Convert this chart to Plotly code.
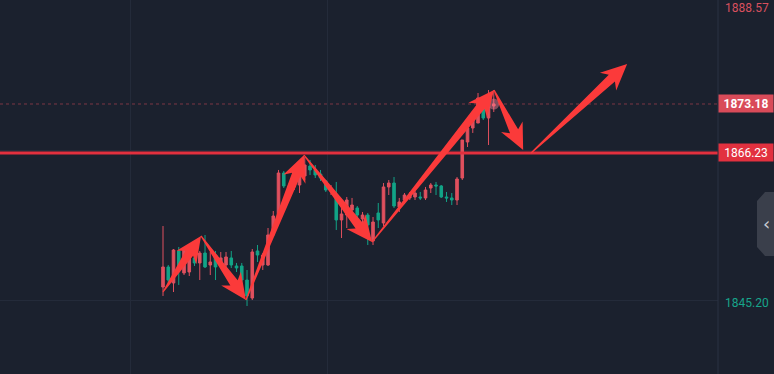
import math
import plotly.graph_objects as go

# ---------------- data ----------------
open_ = [1847.22, 1850.06, 1847.79, 1852.33, 1849.21, 1849.35, 1851.34, 1850.63, 1852.04, 1850.34,
         1851.76, 1850.34, 1850.34, 1851.34, 1850.20, 1850.20, 1848.21, 1845.66, 1852.33, 1850.34,
         1850.34, 1854.60, 1857.29, 1863.39, 1861.55, 1861.41, 1861.69, 1862.97, 1864.38, 1863.82,
         1863.25, 1862.26, 1860.98, 1860.27, 1856.73, 1857.43, 1858.14, 1858.43, 1856.87, 1857.43,
         1853.75, 1857.72, 1856.30, 1861.41, 1861.97, 1858.57, 1859.56, 1859.85, 1859.99, 1859.99,
         1859.85, 1861.26, 1861.69, 1861.55, 1859.99, 1859.85, 1859.56, 1862.68, 1867.79, 1869.77,
         1870.48, 1872.75, 1871.19, 1872.89]
high = [1855.87, 1850.34, 1852.61, 1852.90, 1852.61, 1851.76, 1851.62, 1852.33, 1854.60, 1852.19,
        1852.33, 1852.19, 1852.19, 1852.33, 1850.63, 1850.63, 1849.63, 1852.61, 1853.18, 1852.04,
        1855.59, 1858.00, 1863.82, 1863.68, 1861.97, 1863.82, 1864.81, 1865.66, 1865.24, 1864.53,
        1863.82, 1862.40, 1861.69, 1862.12, 1858.57, 1859.99, 1859.85, 1858.71, 1857.86, 1857.72,
        1857.15, 1859.14, 1861.97, 1862.40, 1862.82, 1859.85, 1860.55, 1860.70, 1861.26, 1860.70,
        1861.41, 1861.97, 1862.12, 1861.69, 1860.70, 1860.55, 1862.82, 1868.07, 1870.48, 1871.62,
        1874.74, 1873.46, 1875.16, 1875.16]
low = [1845.95, 1847.79, 1846.51, 1847.51, 1848.92, 1848.78, 1850.20, 1848.21, 1849.92, 1848.92,
       1848.21, 1849.92, 1849.63, 1849.92, 1849.35, 1846.37, 1844.53, 1845.38, 1850.77, 1849.63,
       1850.20, 1854.31, 1857.01, 1861.26, 1860.98, 1860.98, 1860.55, 1862.40, 1863.11, 1862.68,
       1862.26, 1860.70, 1860.27, 1855.31, 1854.17, 1855.59, 1857.43, 1856.44, 1854.60, 1853.18,
       1853.18, 1855.59, 1855.87, 1860.27, 1858.43, 1857.86, 1858.99, 1859.56, 1859.56, 1859.56,
       1859.56, 1860.55, 1860.27, 1859.85, 1859.28, 1858.85, 1858.85, 1862.40, 1867.08, 1869.07,
       1870.48, 1870.91, 1867.36, 1872.04]
close = [1850.06, 1848.21, 1852.47, 1850.06, 1852.47, 1851.48, 1850.63, 1852.04, 1850.06, 1850.77,
         1850.06, 1851.34, 1851.48, 1850.34, 1849.92, 1848.21, 1845.95, 1852.19, 1851.76, 1851.76,
         1854.60, 1857.29, 1863.39, 1861.55, 1861.41, 1863.11, 1864.24, 1864.53, 1863.82, 1863.11,
         1862.68, 1860.98, 1861.26, 1856.73, 1857.58, 1859.56, 1858.85, 1857.43, 1857.43, 1856.02,
         1856.44, 1856.73, 1861.41, 1861.97, 1858.71, 1859.28, 1860.27, 1860.27, 1860.55, 1859.85,
         1860.98, 1861.69, 1861.55, 1859.99, 1859.85, 1859.56, 1862.54, 1868.07, 1869.77, 1870.91,
         1874.03, 1871.19, 1874.46, 1873.18]
bars = list(range(len(close)))

top_price_label = 1888.57
last_price = 1873.18
level_price = 1866.23
low_price_label = 1845.20

# drawn arrow path (bar index, price)
zigzag = [(0, 1846.51), (7.24, 1854.46), (15.8, 1845.38), (26.86, 1865.94),
          (39.8, 1853.60), (63.05, 1875.16), (68.6, 1866.65)]
projection = [(70.1, 1866.23), (88.4, 1878.85)]

# ---------------- layout constants ----------------
W, H = 774, 374
PW, PH = 718, 374           # plot area in px
X0, X1 = -31.05, 105.71
Y0, Y1 = 1834.88, 1887.93
BG = "#1b212e"
GRID = "#242b3a"
UP = "#e0505e"
DOWN = "#12a387"
ARROW = "#fb3a3a"


def to_px(i, p):
    return ((i - X0) / (X1 - X0) * PW, (Y1 - p) / (Y1 - Y0) * PH)


def to_data(x, y):
    return (X0 + x / PW * (X1 - X0), Y1 - y / PH * (Y1 - Y0))


def arrow_path(a, b, w0=1.2, w1=9.0, hw=24.0, hl=26.0):
    ax, ay = to_px(*a)
    bx, by = to_px(*b)
    dx, dy = bx - ax, by - ay
    L = math.hypot(dx, dy)
    ux, uy = dx / L, dy / L
    nx, ny = -uy, ux
    hx, hy = bx - ux * hl, by - uy * hl
    sx, sy = bx - ux * hl * 0.8, by - uy * hl * 0.8
    pts = [
        (ax + nx * w0 / 2, ay + ny * w0 / 2),
        (sx + nx * w1 / 2, sy + ny * w1 / 2),
        (hx + nx * hw / 2, hy + ny * hw / 2),
        (bx, by),
        (hx - nx * hw / 2, hy - ny * hw / 2),
        (sx - nx * w1 / 2, sy - ny * w1 / 2),
        (ax - nx * w0 / 2, ay - ny * w0 / 2),
    ]
    d = [to_data(x, y) for x, y in pts]
    return "M " + " L ".join(f"{x:.4f},{y:.4f}" for x, y in d) + " Z"


fig = go.Figure()
fig.add_trace(go.Candlestick(
    x=bars, open=open_, high=high, low=low, close=close,
    increasing=dict(line=dict(color=UP, width=1), fillcolor=UP),
    decreasing=dict(line=dict(color=DOWN, width=1), fillcolor=DOWN),
    whiskerwidth=0, hoverinfo="skip", showlegend=False,
))
# glow on last bar
fig.add_trace(go.Scatter(
    x=[bars[-1]], y=[last_price], mode="markers",
    marker=dict(size=11, color="rgba(255,130,150,0.45)", line=dict(width=0)),
    hoverinfo="skip", showlegend=False,
))

shapes = []
shapes.append(dict(type="line", xref="paper", x0=0, x1=1, yref="y", y0=last_price, y1=last_price,
                   line=dict(color="rgba(190,70,85,0.6)", width=1, dash="dot"), layer="below"))
shapes.append(dict(type="line", xref="paper", x0=0, x1=1, yref="y", y0=level_price, y1=level_price,
                   line=dict(color="#e3303e", width=3), layer="above"))
for a, b in zip(zigzag[:-1], zigzag[1:]):
    shapes.append(dict(type="path", path=arrow_path(a, b), xref="x", yref="y",
                       fillcolor=ARROW, line=dict(width=0), layer="above"))
shapes.append(dict(type="path", path=arrow_path(projection[0], projection[1]), xref="x", yref="y",
                   fillcolor=ARROW, line=dict(width=0), layer="above"))
shapes.append(dict(type="line", xref="paper", x0=1, x1=1, yref="paper", y0=0, y1=1,
                   line=dict(color="#2a3242", width=1)))


def pp(x, y):
    return f"{x / PW:.4f},{1 - y / PH:.4f}"


tab = "M " + " L ".join(pp(x, y) for x, y in [(774, 192), (765, 192), (757, 201), (757, 247), (765, 256), (774, 256)]) + " Z"
shapes.append(dict(type="path", path=tab, xref="paper", yref="paper",
                   fillcolor="#3a3f4b", line=dict(width=0)))

annotations = [
    dict(xref="paper", yref="paper", x=1, y=1, xanchor="left", yanchor="top", yshift=1,
         text=f"{top_price_label:.2f}", showarrow=False, width=54, align="center",
         font=dict(color="#d9505e", size=12, family="Roboto")),
    dict(xref="paper", yref="y", x=1, y=last_price, xanchor="left", yanchor="middle",
         text=f"<b>{last_price:.2f}</b>", showarrow=False, width=52, height=15, align="center",
         bgcolor="#d94b59", borderpad=1,
         font=dict(color="#ffffff", size=12, family="Roboto")),
    dict(xref="paper", yref="y", x=1, y=level_price, xanchor="left", yanchor="middle",
         text=f"{level_price:.2f}", showarrow=False, width=52, height=15, align="center",
         bgcolor="#e2313f", borderpad=1,
         font=dict(color="#ffffff", size=12, family="Roboto")),
    dict(xref="paper", yref="y", x=1, y=low_price_label, xanchor="left", yanchor="middle", yshift=-2,
         text=f"{low_price_label:.2f}", showarrow=False, width=54, align="center",
         font=dict(color="#17a58b", size=12, family="Roboto")),
    dict(xref="paper", yref="paper", x=766 / PW, y=1 - 224 / PH, xanchor="center", yanchor="middle",
         text="‹", showarrow=False, font=dict(color="#c9ccd3", size=18, family="DejaVu Sans")),
]

fig.update_layout(
    width=W, height=H,
    margin=dict(l=0, r=W - PW, t=0, b=0),
    paper_bgcolor=BG, plot_bgcolor=BG,
    shapes=shapes, annotations=annotations,
    showlegend=False, hovermode=False,
    xaxis=dict(range=[X0, X1], rangeslider=dict(visible=False), showticklabels=False,
               tickvals=[-6.1, 31.4], showgrid=True, gridcolor=GRID, gridwidth=1,
               zeroline=False, showline=False, ticks=""),
    yaxis=dict(range=[Y0, Y1], showticklabels=False, tickvals=[1845.3, 1866.6],
               showgrid=True, gridcolor=GRID, gridwidth=1, zeroline=False, showline=False, ticks=""),
)

fig.write_html("out.html", config={"displayModeBar": False},
               post_script="document.body.style.margin='0';document.body.style.background='#1b212e';")
